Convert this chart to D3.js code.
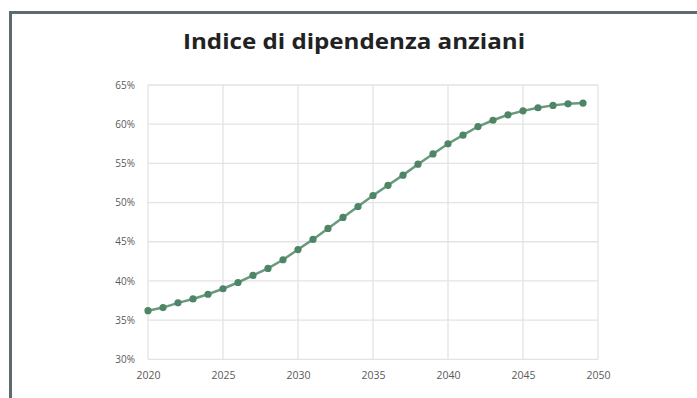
<!DOCTYPE html>
<html>
<head>
<meta charset="utf-8">
<script src="https://cdn.jsdelivr.net/npm/d3@7"></script>
<style>
html,body{margin:0;padding:0;background:#fff;}
svg{display:block;}
</style>
</head>
<body>
<svg id="chart" width="697" height="398"></svg>
<script>
const title = "Indice di dipendenza anziani";
const years = [2020,2021,2022,2023,2024,2025,2026,2027,2028,2029,2030,2031,2032,2033,2034,2035,2036,2037,2038,2039,2040,2041,2042,2043,2044,2045,2046,2047,2048,2049];
const values = [36.2,36.6,37.2,37.7,38.3,39.0,39.8,40.7,41.6,42.7,44.0,45.3,46.7,48.1,49.5,50.9,52.2,53.5,54.9,56.2,57.5,58.6,59.7,60.5,61.2,61.7,62.1,62.4,62.6,62.7];
const xTicks = [2020,2025,2030,2035,2040,2045,2050];
const yTicks = [30,35,40,45,50,55,60,65];

const svg = d3.select("#chart");

// frame
svg.append("path")
  .attr("d","M10.5,400 L10.5,12.5 L700,12.5")
  .attr("fill","none").attr("stroke","#5f6a70").attr("stroke-width",3);

// title
svg.append("text")
  .attr("x",354).attr("y",48.5)
  .attr("text-anchor","middle")
  .attr("font-family","'Open Sans', sans-serif")
  .attr("font-weight",700)
  .attr("font-size",21)
  .attr("fill","#222")
  .attr("textLength",342)
  .attr("lengthAdjust","spacingAndGlyphs")
  .text(title);

const x = d3.scaleLinear().domain([2020,2050]).range([148,598]);
const y = d3.scaleLinear().domain([30,65]).range([359.3,85]);

// grid
const g = svg.append("g");
g.selectAll("line.h").data(yTicks).join("line")
  .attr("x1",148).attr("x2",598)
  .attr("y1",d=>y(d)).attr("y2",d=>y(d))
  .attr("stroke","#e3e3e3").attr("stroke-width",1.3);
g.selectAll("line.v").data(xTicks).join("line")
  .attr("class","v")
  .attr("y1",85).attr("y2",359.3)
  .attr("x1",d=>x(d)).attr("x2",d=>x(d))
  .attr("stroke","#e3e3e3").attr("stroke-width",1.3);

// axes (labels only)
const yAxis = d3.axisLeft(y).tickValues(yTicks).tickFormat(d=>d+"%").tickSize(0).tickPadding(13);
const ya = svg.append("g").attr("transform","translate(148,0)").call(yAxis);
ya.select(".domain").remove();
ya.selectAll("text").attr("font-family","'Open Sans', sans-serif").attr("font-size",10).attr("fill","#5a5a5a");

const xAxis = d3.axisBottom(x).tickValues(xTicks).tickFormat(d3.format("d")).tickSize(0).tickPadding(12);
const xa = svg.append("g").attr("transform","translate(0,359.3)").call(xAxis);
xa.select(".domain").remove();
xa.selectAll("text").attr("font-family","'Open Sans', sans-serif").attr("font-size",10.5).attr("fill","#5a5a5a");

// line
const data = years.map((yr,i)=>({yr, v: values[i]}));
svg.append("path").datum(data)
  .attr("fill","none").attr("stroke","#6a9a7e").attr("stroke-width",2.5)
  .attr("d", d3.line().x(d=>x(d.yr)).y(d=>y(d.v)));
svg.selectAll("circle.pt").data(data).join("circle")
  .attr("cx",d=>x(d.yr)).attr("cy",d=>y(d.v)).attr("r",3.6)
  .attr("fill","#4f8567");
</script>
</body>
</html>
